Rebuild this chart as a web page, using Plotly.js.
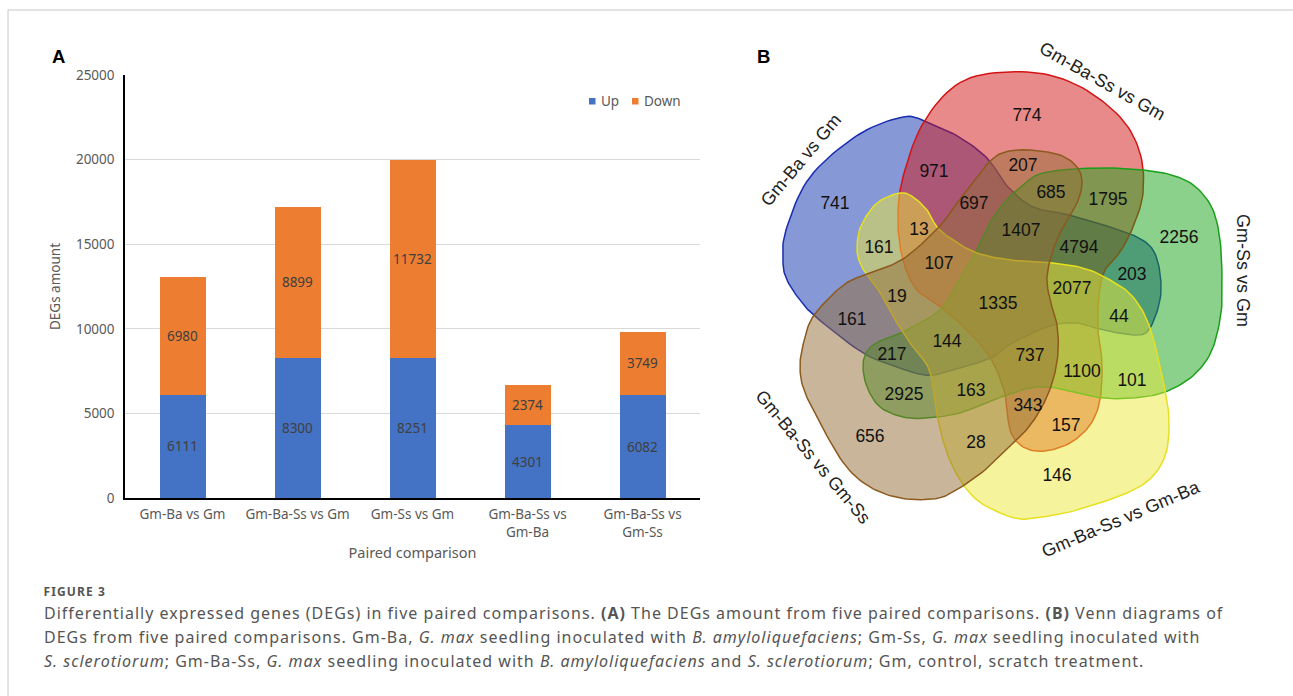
<!DOCTYPE html>
<html><head><meta charset="utf-8">
<script src="https://cdn.plot.ly/plotly-3.0.1.min.js"></script>
<style>html,body{margin:0;padding:0;background:#fff}#chart{width:1293px;height:696px}</style>
</head><body><div id="chart"></div>
<script>
// ---------------- DATA ----------------
const comparisons = ['Gm-Ba vs Gm','Gm-Ba-Ss vs Gm','Gm-Ss vs Gm','Gm-Ba-Ss vs Gm-Ba','Gm-Ba-Ss vs Gm-Ss'];
const tickLabels = ['Gm-Ba vs Gm','Gm-Ba-Ss vs Gm','Gm-Ss vs Gm','Gm-Ba-Ss vs<br>Gm-Ba','Gm-Ba-Ss vs<br>Gm-Ss'];
const upValues = [6111, 8300, 8251, 4301, 6082];
const downValues = [6980, 8899, 11732, 2374, 3749];
const seriesNames = ['Up', 'Down'];
const yTickValues = [0, 5000, 10000, 15000, 20000, 25000];

// Venn: sets A..E and region memberships with gene counts
const vennSetNames = ['Gm-Ba vs Gm','Gm-Ba-Ss vs Gm','Gm-Ss vs Gm','Gm-Ba-Ss vs Gm-Ba','Gm-Ba-Ss vs Gm-Ss'];
const vennRegions = ['A','B','C','D','E','AB','BE','BC','AC','BCE','ABE','ABD','AD','ABDE','ABCE','ABC','ACD','ABCD','ADE','ABCDE','AE','ACDE','ACE','CE','CDE','BCDE','BCD','CD','BDE','BD','DE'];
const vennCounts  = [741, 774, 2256, 146, 656, 971, 207, 1795, 203, 685, 697, 13, 161, 107, 1407, 4794, 44, 2077, 19, 1335, 161, 144, 217, 2925, 163, 737, 1100, 101, 343, 157, 28];

// ---------------- GEOMETRY (layout only, pixel space of the Venn panel) ----------------
const W = 1293, H = 696;
const vennLabelPos = {
  A:[835,205], B:[1027,117], C:[1179,239], D:[1057,477], E:[870,438],
  AB:[934,173], BE:[1023,167], BC:[1108,201], AC:[1132,276], BCE:[1051,194],
  ABE:[974,205], ABD:[919,231], AD:[879,249], ABDE:[939,265], ABCE:[1021,232],
  ABC:[1079,249], ACD:[1119,318], ABCD:[1072,290], ADE:[897,298], ABCDE:[998,305],
  AE:[852,321], ACDE:[947,343], ACE:[892,356], CE:[904,396], CDE:[971,392],
  BCDE:[1030,357], BCD:[1082,373], CD:[1132,382], BDE:[1028,407], BD:[1066,427], DE:[976,444]
};
const vennOutlines = [
  [[903,117],[927,122],[959,137],[987,158],[1008,187],[1033,207],[1065,214],[1110,227],[1137,237],[1153,250],[1160,273],[1160,300],[1150,328],[1137,335],[1103,330],[1077,323],[1050,326],[1012,343],[993,357],[960,368],[933,375],[915,373],[895,366],[863,353],[817,318],[800,300],[787,280],[783,262],[786,230],[810,177],[858,135]],
  [[1027,72],[1077,85],[1120,117],[1140,153],[1143,193],[1133,227],[1120,252],[1105,270],[1099,295],[1098,330],[1102,363],[1100,400],[1090,425],[1070,443],[1045,451],[1025,448],[1012,435],[1007,413],[1004,390],[990,357],[967,330],[942,308],[917,290],[903,260],[898,220],[903,177],[925,120],[965,80]],
  [[1043,173],[1093,168],[1143,170],[1175,176],[1197,188],[1213,210],[1220,240],[1222,277],[1221,313],[1212,350],[1195,374],[1170,390],[1143,397],[1103,398],[1057,388],[1030,388],[993,400],[960,413],[927,418],[903,417],[880,407],[867,387],[863,365],[868,350],[880,341],[905,331],[940,310],[957,283],[973,257],[987,228],[1003,204],[1022,186]],
  [[900,193],[913,197],[927,210],[937,227],[953,240],[977,253],[1010,260],[1043,262],[1083,268],[1110,280],[1133,297],[1150,328],[1164,385],[1169,420],[1166,453],[1152,477],[1127,493],[1077,510],[1043,517],[1020,519],[998,512],[977,500],[960,480],[947,453],[938,420],[933,385],[927,365],[913,347],[897,323],[883,297],[869,278],[860,263],[857,248],[861,226],[877,203]],
  [[1030,150],[1060,155],[1077,167],[1082,183],[1077,203],[1063,227],[1053,250],[1047,277],[1050,300],[1057,325],[1058,353],[1053,380],[1043,405],[1028,428],[1010,446],[985,470],[953,492],[933,499],[900,498],[870,487],[845,465],[820,423],[804,390],[800,367],[803,345],[811,320],[828,299],[848,282],[870,273],[903,259],[938,228],[957,203],[977,177],[990,161],[1005,152]]
];
const vennFill = ['rgba(13,49,173,0.5)','rgba(209,21,21,0.5)','rgba(23,161,23,0.5)','rgba(235,231,57,0.5)','rgba(147,107,53,0.5)'];
const vennStroke = ['#1a2db0','#d41414','#17a017','#e6e020','#8c5a1e'];
const setLabelPos = [[801,160,-50],[1102,81,29.5],[1243,270,90],[1121,519,-23],[813,457,50]];

function smoothClosed(pts, n) {
  const out = [], m = pts.length;
  for (let i = 0; i < m; i++) {
    const p0 = pts[(i - 1 + m) % m], p1 = pts[i], p2 = pts[(i + 1) % m], p3 = pts[(i + 2) % m];
    for (let k = 0; k < n; k++) {
      const t = k / n, t2 = t * t, t3 = t2 * t;
      const f = (a, b, c, d) => 0.5 * ((2 * b) + (-a + c) * t + (2 * a - 5 * b + 4 * c - d) * t2 + (-a + 3 * b - 3 * c + d) * t3);
      out.push([f(p0[0], p1[0], p2[0], p3[0]), f(p0[1], p1[1], p2[1], p3[1])]);
    }
  }
  out.push(out[0]);
  return out;
}

const FONT = 'Noto Sans, sans-serif';
const GREY = '#595959';
const barColors = ['#4472C4', '#ED7D31'];

const traces = [];
[upValues, downValues].forEach((vals, i) => {
  traces.push({
    type: 'bar', x: comparisons, y: vals, name: seriesNames[i],
    marker: { color: barColors[i] },
    text: vals.map(String), textposition: 'inside', insidetextanchor: 'middle',
    textfont: { family: FONT, size: 13.5, color: '#404040' }, constraintext: 'none',
    showlegend: false, hoverinfo: 'x+y+name', xaxis: 'x', yaxis: 'y'
  });
});

vennOutlines.forEach((pts, i) => {
  const s = smoothClosed(pts, 10);
  traces.push({
    type: 'scatter', mode: 'lines', x: s.map(p => p[0]), y: s.map(p => p[1]),
    fill: 'toself', fillcolor: vennFill[i], line: { color: vennStroke[i], width: 1.5 },
    name: vennSetNames[i], hoverinfo: 'name', showlegend: false, xaxis: 'x2', yaxis: 'y2'
  });
});

traces.push({
  type: 'scatter', mode: 'text',
  x: vennRegions.map(r => vennLabelPos[r][0]), y: vennRegions.map(r => vennLabelPos[r][1]),
  text: vennCounts.map(String),
  textfont: { family: 'Liberation Sans, Arial, sans-serif', size: 17.5, color: '#111' },
  hoverinfo: 'text', showlegend: false, xaxis: 'x2', yaxis: 'y2', cliponaxis: false
});

const annotations = [];
const shapes = [];
const px = v => v / W, py = v => 1 - v / H;

// panel letters
annotations.push({ text: '<b>A</b>', xref: 'paper', yref: 'paper', x: px(58.5), y: py(56.5), xanchor: 'center', yanchor: 'middle', showarrow: false, font: { family: 'Liberation Sans, Arial', size: 18.5, color: '#000' } });
annotations.push({ text: '<b>B</b>', xref: 'paper', yref: 'paper', x: px(763), y: py(56.5), xanchor: 'center', yanchor: 'middle', showarrow: false, font: { family: 'Liberation Sans, Arial', size: 18.5, color: '#000' } });

// custom legend
const legendItems = [[589, 599], [632, 642]];
seriesNames.forEach((nm, i) => {
  const [sx, tx] = legendItems[i];
  shapes.push({ type: 'rect', xref: 'paper', yref: 'paper', x0: px(sx), x1: px(sx + 6.5), y0: py(104.5), y1: py(98), fillcolor: barColors[i], line: { width: 0 } });
  annotations.push({ text: nm, xref: 'paper', yref: 'paper', x: px(tx), y: py(101), xanchor: 'left', yanchor: 'middle', showarrow: false, font: { family: FONT, size: 13.5, color: GREY } });
});

// venn set labels
vennSetNames.forEach((nm, i) => {
  const [x, y, a] = setLabelPos[i];
  annotations.push({ text: nm, xref: 'x2', yref: 'y2', x: x, y: y, textangle: a, showarrow: false, xanchor: 'center', yanchor: 'middle', font: { family: 'Liberation Sans, Arial, sans-serif', size: 18, color: '#222' } });
});

// caption (letter-spaced like the reference typeface; the centred SVG text is shifted
// right by half of the extra width so that it still starts at the left margin)
const spaced = [];
function addSpaced(html, left, top, size, ls, bold) {
  const plain = html.replace(/<[^>]+>/g, '');
  const shift = plain.length * ls / 2;
  spaced.push([annotations.length, ls + 'px']);
  annotations.push({ text: html, xref: 'paper', yref: 'paper', x: px(left + shift), y: py(top), xanchor: 'left', yanchor: 'middle', showarrow: false, font: { family: FONT, size: size, color: '#555' } });
}
addSpaced('<b>FIGURE 3</b>', 42, 591, 12, 1.1);
const capLines = [
  'Differentially expressed genes (DEGs) in five paired comparisons. <b>(A)</b> The DEGs amount from five paired comparisons. <b>(B)</b> Venn diagrams of',
  'DEGs from five paired comparisons. Gm-Ba, <i>G. max</i> seedling inoculated with <i>B. amyloliquefaciens</i>; Gm-Ss, <i>G. max</i> seedling inoculated with',
  '<i>S. sclerotiorum</i>; Gm-Ba-Ss, <i>G. max</i> seedling inoculated with <i>B. amyloliquefaciens</i> and <i>S. sclerotiorum</i>; Gm, control, scratch treatment.'
];
[613, 637, 661].forEach((yy, i) => addSpaced(capLines[i], 42, yy, 16, 1));

const st = document.createElement('style');
st.textContent = spaced.map(([i, ls]) => `#chart g.annotation[data-index="${i}"] text{letter-spacing:${ls}}`).join('\n');
document.head.appendChild(st);

// frame
shapes.push({ type: 'line', xref: 'paper', yref: 'paper', x0: px(8), x1: 1, y0: py(10), y1: py(10), line: { color: '#c8c8c8', width: 1 } });
shapes.push({ type: 'line', xref: 'paper', yref: 'paper', x0: px(8), x1: px(8), y0: py(10), y1: 0, line: { color: '#c8c8c8', width: 1 } });

const layout = {
  width: W, height: H, margin: { l: 0, r: 0, t: 0, b: 0 },
  paper_bgcolor: '#fff', plot_bgcolor: 'rgba(0,0,0,0)',
  barmode: 'stack', bargap: 0.6, showlegend: false,
  font: { family: FONT, color: GREY },
  xaxis: {
    domain: [px(125), px(700)], anchor: 'y', type: 'category',
    tickvals: comparisons, ticktext: tickLabels,
    tickfont: { family: FONT, size: 13.5, color: GREY },
    showline: true, linecolor: '#000', linewidth: 2, ticks: '', showgrid: false, ticklabelstandoff: 3,
    title: { text: 'Paired comparison', font: { family: FONT, size: 14.5, color: GREY }, standoff: 8 },
    automargin: false, fixedrange: true
  },
  yaxis: {
    domain: [py(498), py(75)], anchor: 'x', range: [0, 25000],
    tickvals: yTickValues, ticktext: yTickValues.map(String),
    tickfont: { family: FONT, size: 13.5, color: GREY },
    showline: true, linecolor: '#000', linewidth: 1.5, ticks: '', ticklabelstandoff: 6,
    showgrid: true, gridcolor: '#d9d9d9', gridwidth: 1, zeroline: false,
    title: { text: 'DEGs amount', font: { family: FONT, size: 13.5, color: GREY }, standoff: 12 },
    automargin: false, fixedrange: true
  },
  xaxis2: { domain: [px(737), 1], anchor: 'y2', range: [737, W], visible: false, fixedrange: true },
  yaxis2: { domain: [0, 1], anchor: 'x2', range: [H, 0], visible: false, fixedrange: true },
  annotations: annotations, shapes: shapes
};

Plotly.newPlot('chart', traces, layout, { displayModeBar: false });
</script>
</body></html>
